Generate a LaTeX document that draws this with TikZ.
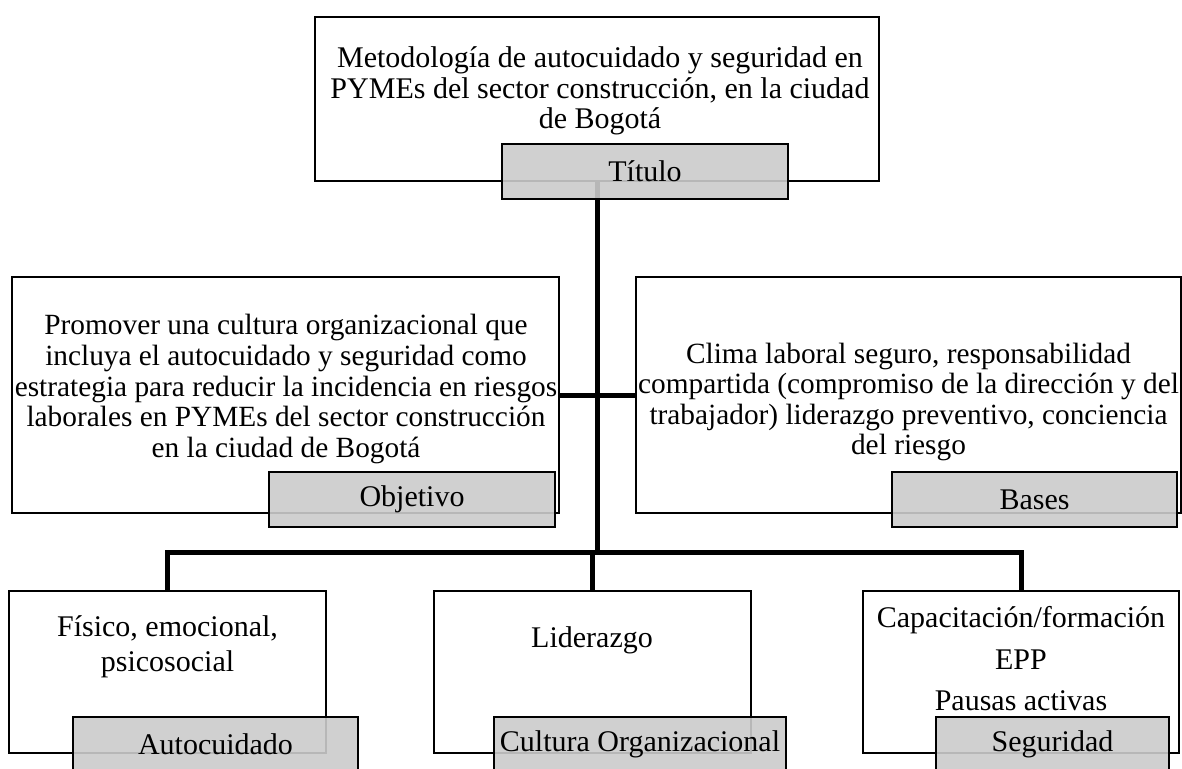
\documentclass[tikz,border=0pt]{standalone}
\usepackage{fontspec}
\setmainfont{Liberation Serif}
\definecolor{lblgray}{RGB}{203,203,203}
\tikzset{
  box/.style={draw=black, line width=1pt, fill=white, rectangle, inner sep=0pt},
  lbl/.style={draw=black, line width=1.5pt, fill=lblgray, fill opacity=0.9, text opacity=1, draw opacity=1,
    rectangle, inner sep=0pt, minimum height=41.25pt, font=\fontsize{22.5}{22.9}\selectfont},
  txt/.style={align=center, inner sep=0pt, font=\fontsize{22.5}{22.9}\selectfont},
  txtsm/.style={align=center, inner sep=0pt, font=\fontsize{22}{22.9}\selectfont},
  conn/.style={line width=3.75pt, draw=black, line join=miter},
}
\begin{document}
\begin{tikzpicture}[x=0.75pt, y=-0.75pt]
\useasboundingbox (0,0) rectangle (1182,768);
\clip (0,0) rectangle (1182,768);

% boxes
\node[box, minimum width=423pt, minimum height=123pt] (title) at (597,99) {};
\node[box, minimum width=410.25pt, minimum height=177pt] (obj) at (285.5,395) {};
\node[box, minimum width=408.75pt, minimum height=177pt] (bases) at (908.5,395) {};
\node[box, minimum width=237.75pt, minimum height=121.5pt] (auto) at (167.5,672) {};
\node[box, minimum width=237.75pt, minimum height=121.5pt] (lider) at (592.5,672) {};
\node[box, minimum width=237pt, minimum height=121.5pt] (segu) at (1021,672) {};

% connectors
\coordinate (bar) at (597,552);
\draw[conn] (title.south) -- (bar);
\draw[conn] (auto.north) |- (bar -| segu.north) -- (segu.north);
\draw[conn] (lider.north) -- (lider.north |- bar);
\draw[conn] (obj.east) -- (bases.west);

% texts
\node[txt] (titletext) at (600,91) {Metodología de autocuidado y seguridad en\\PYMEs del sector construcción, en la ciudad\\de Bogotá};
\node[txtsm] (objtext) at (286,389) {Promover una cultura organizacional que\\incluya el autocuidado y seguridad como\\estrategia para reducir la incidencia en riesgos\\laborales en PYMEs del sector construcción\\en la ciudad de Bogotá};
\node[txtsm] (basestext) at (908.5,402) {Clima laboral seguro, responsabilidad\\compartida (compromiso de la dirección y del\\trabajador) liderazgo preventivo, conciencia\\del riesgo};
\node[txt] (autotext) at (167.5,647) {Físico, emocional,\\[3pt]psicosocial};
\node[txt] (lidertext) at (592,640) {Liderazgo};
\node[txt] (segutext) at (1021,659) {Capacitación/formación\\[8.2pt]EPP\\[8.2pt]Pausas activas};

% labels
\node[lbl, minimum width=214.5pt] (titlelbl) at (645,171.5) {Título};
\node[lbl, minimum width=214.5pt] (objlbl) at (412,499.5) {Objetivo};
\node[lbl, minimum width=213.75pt] (baseslbl) at (1034.5,499.5) {Bases};
\node[lbl, minimum width=213.75pt] (autolbl) at (215.5,744.5) {Autocuidado};
\node[lbl, minimum width=219pt] (culturalbl) at (640,744.5) {Cultura Organizacional};
\node[lbl, minimum width=174.75pt] (segulbl) at (1052.5,744.5) {Seguridad};
\end{tikzpicture}
\end{document}
